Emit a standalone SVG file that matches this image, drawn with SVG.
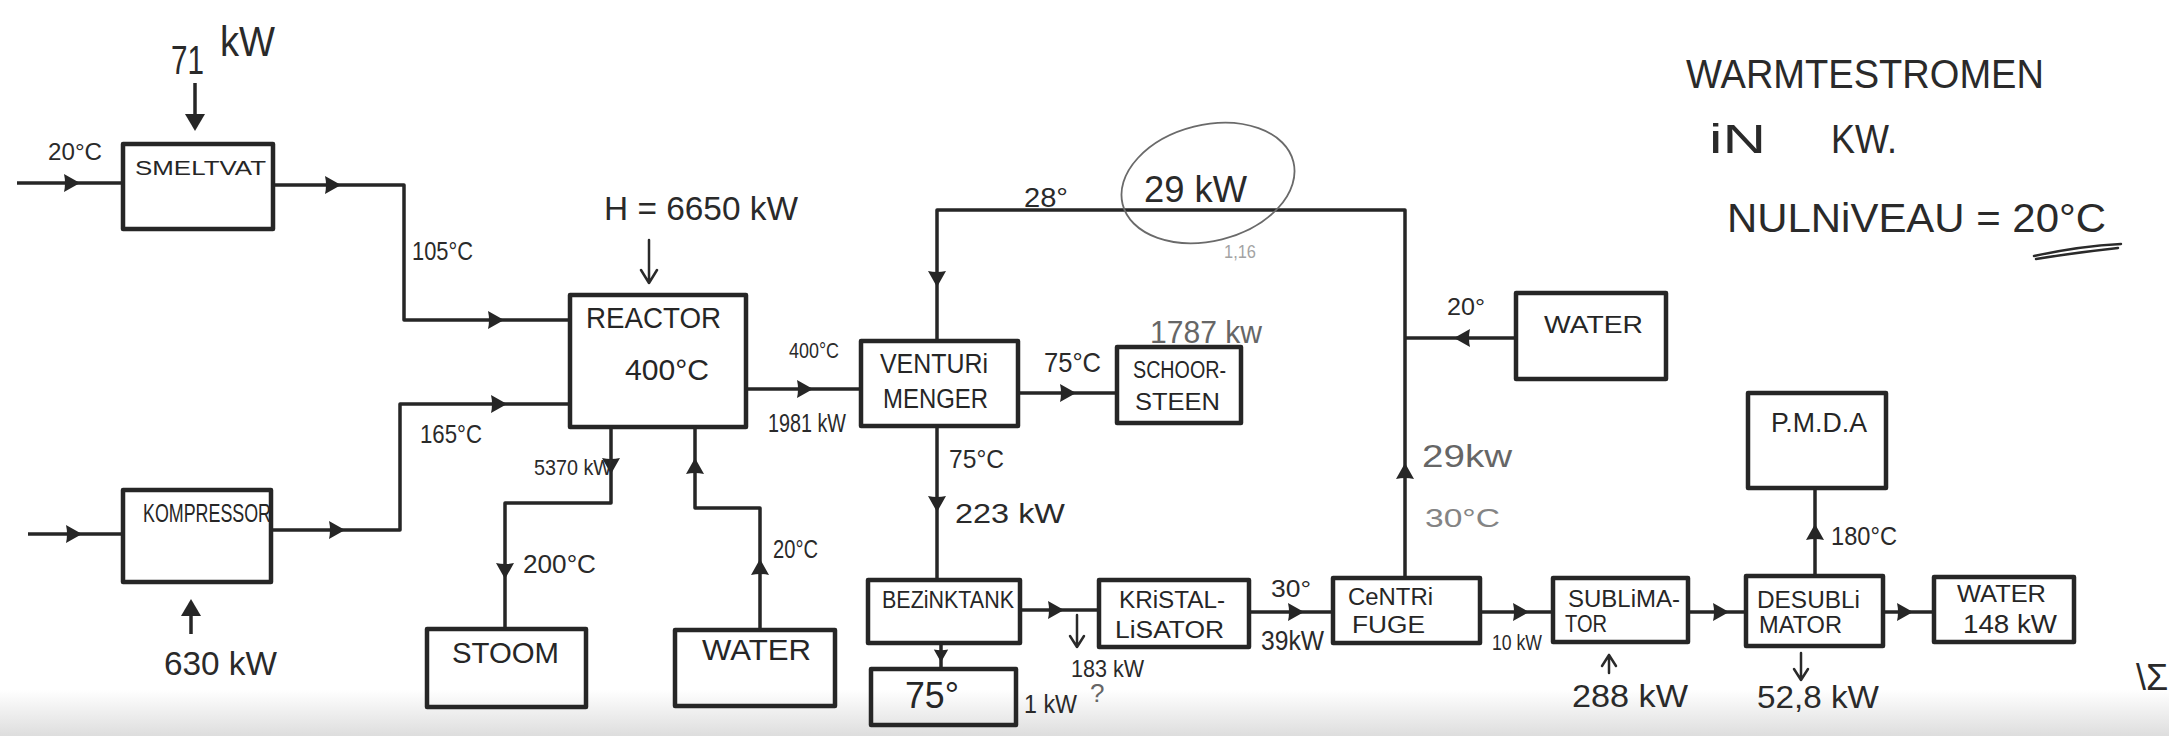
<svg xmlns="http://www.w3.org/2000/svg" xmlns:xlink="http://www.w3.org/1999/xlink" width="2169" height="736" viewBox="0 0 2169 736">
  <style>
    .box { fill: none; stroke: #262626; stroke-width: 4.5; stroke-linejoin: round; }
    .line { fill: none; stroke: #262626; stroke-width: 3.5; stroke-linejoin: round; }
    .thin { fill: none; stroke: #2a2a2a; stroke-width: 2.5; stroke-linecap: round; stroke-linejoin: round; }
    .pencil { fill: none; stroke: #6a6a6a; stroke-width: 1.8; }
    .ah { fill: #262626; }
    .nl { font-family: "Liberation Sans", "DejaVu Sans", sans-serif; fill: #262626; }
    .lb { font-family: "Liberation Sans", "DejaVu Sans", sans-serif; fill: #2a2a2a; }
    .pl { font-family: "Liberation Sans", "DejaVu Sans", sans-serif; fill: #666; }
  </style>
  <defs>
    <path id="ah" class="ah" d="M-7,-9 Q-5,0 -7,9 L9,0 Z"/>
    <linearGradient id="bottomShade" x1="0" y1="0" x2="0" y2="1">
      <stop offset="0" stop-color="#cfcfcf" stop-opacity="0"/>
      <stop offset="1" stop-color="#cfcfcf" stop-opacity="0.7"/>
    </linearGradient>
  </defs>

  <rect x="0" y="0" width="2169" height="736" fill="#ffffff"/>
  <rect x="0" y="690" width="2169" height="46" fill="url(#bottomShade)"/>

  <!-- Title -->
  <g id="title">
    <text class="lb" x="1686" y="88" font-size="40" textLength="358" lengthAdjust="spacingAndGlyphs">WARMTESTROMEN</text>
    <text class="lb" x="1709" y="153" font-size="40" textLength="57" lengthAdjust="spacingAndGlyphs">iN</text>
    <text class="lb" x="1831" y="153" font-size="40" textLength="66" lengthAdjust="spacingAndGlyphs">KW.</text>
    <text class="lb" x="1727" y="232" font-size="40" textLength="379" lengthAdjust="spacingAndGlyphs">NULNiVEAU = 20°C</text>
    <path class="thin" d="M2034,256 Q2080,246 2121,244 M2036,259 Q2080,252 2118,248"/>
  </g>

  <!-- Nodes -->
  <g id="smeltvat">
    <rect class="box" x="123" y="144" width="150" height="85"/>
    <text class="nl" x="135" y="175" font-size="21" textLength="131" lengthAdjust="spacingAndGlyphs">SMELTVAT</text>
  </g>
  <g id="kompressor">
    <rect class="box" x="123" y="490" width="148" height="92"/>
    <text class="nl" x="143" y="522" font-size="26" textLength="128" lengthAdjust="spacingAndGlyphs">KOMPRESSOR</text>
  </g>
  <g id="reactor">
    <rect class="box" x="570" y="295" width="176" height="132"/>
    <text class="nl" x="586" y="328" font-size="30" textLength="135" lengthAdjust="spacingAndGlyphs">REACTOR</text>
    <text class="nl" x="625" y="380" font-size="30" textLength="84" lengthAdjust="spacingAndGlyphs">400°C</text>
  </g>
  <g id="stoom">
    <rect class="box" x="427" y="629" width="159" height="78"/>
    <text class="nl" x="452" y="663" font-size="30" textLength="107" lengthAdjust="spacingAndGlyphs">STOOM</text>
  </g>
  <g id="water-reactor">
    <rect class="box" x="675" y="630" width="160" height="76"/>
    <text class="nl" x="702" y="660" font-size="30" textLength="109" lengthAdjust="spacingAndGlyphs">WATER</text>
  </g>
  <g id="venturi-menger">
    <rect class="box" x="861" y="341" width="157" height="85"/>
    <text class="nl" x="880" y="373" font-size="27" textLength="108" lengthAdjust="spacingAndGlyphs">VENTURi</text>
    <text class="nl" x="883" y="408" font-size="27" textLength="105" lengthAdjust="spacingAndGlyphs">MENGER</text>
  </g>
  <g id="schoorsteen">
    <rect class="box" x="1117" y="347" width="124" height="76"/>
    <text class="nl" x="1133" y="378" font-size="23" textLength="93" lengthAdjust="spacingAndGlyphs">SCHOOR-</text>
    <text class="nl" x="1135" y="410" font-size="23" textLength="85" lengthAdjust="spacingAndGlyphs">STEEN</text>
  </g>
  <g id="bezinktank">
    <rect class="box" x="868" y="580" width="152" height="63"/>
    <text class="nl" x="882" y="608" font-size="23" textLength="132" lengthAdjust="spacingAndGlyphs">BEZiNKTANK</text>
  </g>
  <g id="residu-75">
    <rect class="box" x="871" y="669" width="145" height="56"/>
    <text class="nl" x="905" y="708" font-size="36" textLength="54" lengthAdjust="spacingAndGlyphs">75°</text>
  </g>
  <g id="kristallisator">
    <rect class="box" x="1099" y="580" width="150" height="67"/>
    <text class="nl" x="1119" y="608" font-size="23" textLength="106" lengthAdjust="spacingAndGlyphs">KRiSTAL-</text>
    <text class="nl" x="1115" y="638" font-size="23" textLength="109" lengthAdjust="spacingAndGlyphs">LiSATOR</text>
  </g>
  <g id="centrifuge">
    <rect class="box" x="1333" y="578" width="147" height="65"/>
    <text class="nl" x="1348" y="605" font-size="23" textLength="85" lengthAdjust="spacingAndGlyphs">CeNTRi</text>
    <text class="nl" x="1352" y="633" font-size="23" textLength="73" lengthAdjust="spacingAndGlyphs">FUGE</text>
  </g>
  <g id="water-centrifuge">
    <rect class="box" x="1516" y="293" width="150" height="86"/>
    <text class="nl" x="1544" y="333" font-size="23" textLength="99" lengthAdjust="spacingAndGlyphs">WATER</text>
  </g>
  <g id="sublimator">
    <rect class="box" x="1553" y="578" width="135" height="64"/>
    <text class="nl" x="1568" y="607" font-size="23" textLength="112" lengthAdjust="spacingAndGlyphs">SUBLiMA-</text>
    <text class="nl" x="1565" y="632" font-size="23" textLength="42" lengthAdjust="spacingAndGlyphs">TOR</text>
  </g>
  <g id="desublimator">
    <rect class="box" x="1746" y="576" width="137" height="70"/>
    <text class="nl" x="1757" y="608" font-size="23" textLength="103" lengthAdjust="spacingAndGlyphs">DESUBLi</text>
    <text class="nl" x="1759" y="633" font-size="23" textLength="83" lengthAdjust="spacingAndGlyphs">MATOR</text>
  </g>
  <g id="pmda">
    <rect class="box" x="1748" y="393" width="138" height="95"/>
    <text class="nl" x="1771" y="432" font-size="27" textLength="96" lengthAdjust="spacingAndGlyphs">P.M.D.A</text>
  </g>
  <g id="water-desublimator">
    <rect class="box" x="1934" y="577" width="140" height="65"/>
    <text class="nl" x="1957" y="602" font-size="23" textLength="89" lengthAdjust="spacingAndGlyphs">WATER</text>
    <text class="nl" x="1963" y="633" font-size="26" textLength="94" lengthAdjust="spacingAndGlyphs">148 kW</text>
  </g>

  <!-- Connectors -->
  <g id="connectors">
    <path class="line" d="M17,183 H123"/>
    <use xlink:href="#ah" transform="translate(71,183)"/>
    <path class="line" d="M273,185 H404 V320 H570"/>
    <use xlink:href="#ah" transform="translate(332,185)"/>
    <use xlink:href="#ah" transform="translate(495,320)"/>
    <path class="line" d="M28,534 H123"/>
    <use xlink:href="#ah" transform="translate(73,534)"/>
    <path class="line" d="M271,530 H400 V404 H570"/>
    <use xlink:href="#ah" transform="translate(336,530)"/>
    <use xlink:href="#ah" transform="translate(498,404)"/>

    <path class="line" stroke-width="5" d="M195,83 V118"/>
    <path class="ah" d="M185,114 L205,114 L195,131 Z"/>
    <path class="line" stroke-width="5" d="M191,634 V612"/>
    <path class="ah" d="M181,616 L201,616 L191,599 Z"/>
    <path class="thin" d="M649,240 V283 M641,270 L649,283 L657,270"/>

    <path class="line" d="M611,427 V503 H505 V629"/>
    <use xlink:href="#ah" transform="translate(611,465) rotate(90)"/>
    <use xlink:href="#ah" transform="translate(505,570) rotate(90)"/>
    <path class="line" d="M760,630 V508 H695 V427"/>
    <use xlink:href="#ah" transform="translate(760,568) rotate(-90)"/>
    <use xlink:href="#ah" transform="translate(695,467) rotate(-90)"/>

    <path class="line" d="M746,389 H861"/>
    <use xlink:href="#ah" transform="translate(804,389)"/>
    <path class="line" d="M1405,578 V210 H937 V341"/>
    <use xlink:href="#ah" transform="translate(1405,472) rotate(-90)"/>
    <use xlink:href="#ah" transform="translate(937,278) rotate(90)"/>
    <path class="line" d="M1516,338 H1405"/>
    <use xlink:href="#ah" transform="translate(1463,338) rotate(180)"/>
    <path class="line" d="M1018,393 H1117"/>
    <use xlink:href="#ah" transform="translate(1067,393)"/>
    <path class="line" d="M937,426 V580"/>
    <use xlink:href="#ah" transform="translate(937,503) rotate(90)"/>
    <path class="line" d="M941,643 V669"/>
    <use xlink:href="#ah" transform="translate(941,655) rotate(90) scale(0.8)"/>
    <path class="line" d="M1020,610 H1099"/>
    <use xlink:href="#ah" transform="translate(1055,610)"/>
    <path class="thin" d="M1077,615 V647 M1070,636 L1077,647 L1084,636"/>
    <path class="line" d="M1249,612 H1333"/>
    <use xlink:href="#ah" transform="translate(1295,612)"/>
    <path class="line" d="M1480,612 H1553"/>
    <use xlink:href="#ah" transform="translate(1520,612)"/>
    <path class="thin" d="M1609,673 V655 M1602,666 L1609,655 L1616,666"/>
    <path class="line" d="M1688,612 H1746"/>
    <use xlink:href="#ah" transform="translate(1720,612)"/>
    <path class="line" d="M1815,576 V488"/>
    <use xlink:href="#ah" transform="translate(1815,533) rotate(-90)"/>
    <path class="thin" d="M1801,653 V680 M1794,669 L1801,680 L1808,669"/>
    <path class="line" d="M1883,612 H1934"/>
    <use xlink:href="#ah" transform="translate(1904,612)"/>
  </g>

  <!-- Connector labels -->
  <g id="labels">
    <text class="lb" x="48" y="160" font-size="24" textLength="54" lengthAdjust="spacingAndGlyphs">20°C</text>
    <text class="lb" x="171" y="74" font-size="40" textLength="33" lengthAdjust="spacingAndGlyphs">71</text>
    <text class="lb" x="220" y="56" font-size="42" textLength="55" lengthAdjust="spacingAndGlyphs">kW</text>
    <text class="lb" x="412" y="260" font-size="26" textLength="61" lengthAdjust="spacingAndGlyphs">105°C</text>
    <text class="lb" x="420" y="443" font-size="26" textLength="62" lengthAdjust="spacingAndGlyphs">165°C</text>
    <text class="lb" x="164" y="675" font-size="34" textLength="113" lengthAdjust="spacingAndGlyphs">630 kW</text>
    <text class="lb" x="604" y="220" font-size="34" textLength="194" lengthAdjust="spacingAndGlyphs">H = 6650 kW</text>
    <text class="lb" x="789" y="358" font-size="22" textLength="50" lengthAdjust="spacingAndGlyphs">400°C</text>
    <text class="lb" x="768" y="432" font-size="26" textLength="78" lengthAdjust="spacingAndGlyphs">1981 kW</text>
    <text class="lb" x="534" y="475" font-size="22" textLength="78" lengthAdjust="spacingAndGlyphs">5370 kW</text>
    <text class="lb" x="523" y="573" font-size="25" textLength="73" lengthAdjust="spacingAndGlyphs">200°C</text>
    <text class="lb" x="773" y="558" font-size="25" textLength="45" lengthAdjust="spacingAndGlyphs">20°C</text>
    <text class="lb" x="1024" y="207" font-size="28" textLength="44" lengthAdjust="spacingAndGlyphs">28°</text>
    <text class="lb" x="1144" y="202" font-size="36" textLength="103" lengthAdjust="spacingAndGlyphs">29 kW</text>
    <ellipse class="pencil" cx="1208" cy="183" rx="88" ry="58" transform="rotate(-14 1208 183)"/>
    <text class="pl" x="1224" y="258" font-size="18" textLength="32" lengthAdjust="spacingAndGlyphs" opacity="0.6">1,16</text>
    <text class="pl" x="1150" y="343" font-size="32" textLength="112" lengthAdjust="spacingAndGlyphs">1787 kw</text>
    <text class="lb" x="1044" y="372" font-size="28" textLength="57" lengthAdjust="spacingAndGlyphs">75°C</text>
    <text class="lb" x="949" y="468" font-size="26" textLength="55" lengthAdjust="spacingAndGlyphs">75°C</text>
    <text class="lb" x="955" y="523" font-size="28" textLength="110" lengthAdjust="spacingAndGlyphs">223 kW</text>
    <text class="lb" x="1071" y="677" font-size="24" textLength="73" lengthAdjust="spacingAndGlyphs">183 kW</text>
    <text class="lb" x="1024" y="713" font-size="26" textLength="53" lengthAdjust="spacingAndGlyphs">1 kW</text>
    <text class="pl" x="1090" y="702" font-size="26">?</text>
    <text class="lb" x="1271" y="597" font-size="24" textLength="40" lengthAdjust="spacingAndGlyphs">30°</text>
    <text class="lb" x="1261" y="650" font-size="28" textLength="63" lengthAdjust="spacingAndGlyphs">39kW</text>
    <text class="lb" x="1447" y="315" font-size="24" textLength="38" lengthAdjust="spacingAndGlyphs">20°</text>
    <text class="pl" x="1422" y="467" font-size="32" textLength="90" lengthAdjust="spacingAndGlyphs">29kw</text>
    <text class="pl" x="1425" y="527" font-size="26" textLength="75" lengthAdjust="spacingAndGlyphs" opacity="0.8">30°C</text>
    <text class="lb" x="1492" y="650" font-size="22" textLength="50" lengthAdjust="spacingAndGlyphs">10 kW</text>
    <text class="lb" x="1572" y="707" font-size="32" textLength="116" lengthAdjust="spacingAndGlyphs">288 kW</text>
    <text class="lb" x="1757" y="708" font-size="32" textLength="122" lengthAdjust="spacingAndGlyphs">52,8 kW</text>
    <text class="lb" x="1831" y="545" font-size="26" textLength="66" lengthAdjust="spacingAndGlyphs">180°C</text>
    <text class="lb" x="2136" y="690" font-size="36">\Σ</text>
  </g>
</svg>
